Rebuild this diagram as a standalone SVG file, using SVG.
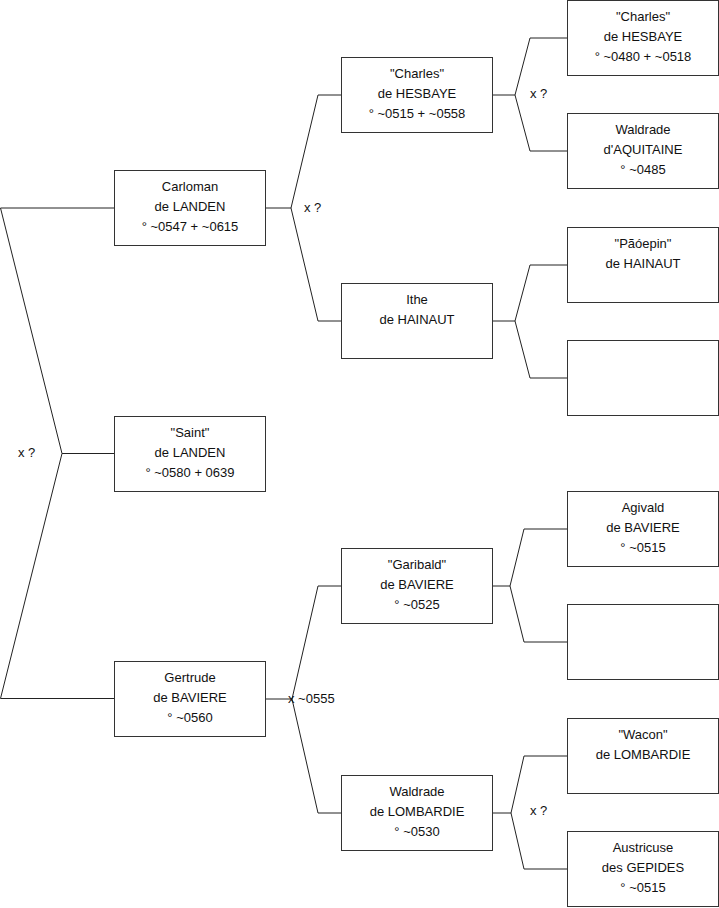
<svg xmlns="http://www.w3.org/2000/svg" width="719" height="908" viewBox="0 0 719 908">
<style>
.box{fill:#fff;stroke:#333;stroke-width:1}
.c{fill:none;stroke:#222;stroke-width:1}
text{font-family:"Liberation Sans",Arial,sans-serif;font-size:13px;fill:#111}
.t{text-anchor:middle}
</style>
<rect width="719" height="908" fill="#fff"/>
<g id="connectors">
<path class="c" d="M114,208 H0.5 L62,453.5 L0.5,698.5 H114 M62,453.5 H114"/>
<path class="c" d="M265,208 H291 L318,95 H341 M291,208 L318,321 H341"/>
<path class="c" d="M492,95 H515 L530,38 H567 M515,95 L530,151 H567"/>
<path class="c" d="M492,321 H515 L530,265 H567 M515,321 L530,378 H567"/>
<path class="c" d="M265,699 H292 L318,586 H341 M292,699 L318,813 H341"/>
<path class="c" d="M492,586 H510 L524,529 H567 M510,586 L524,642 H567"/>
<path class="c" d="M492,813 H511 L524,756 H567 M511,813 L524,869 H567"/>
<text x="18" y="457">x ?</text>
<text x="304" y="212">x ?</text>
<text x="530" y="98">x ?</text>
<text x="288" y="703">x ~0555</text>
<text x="530" y="815">x ?</text>
</g>
<g id="carloman"><rect class="box" x="114.5" y="170.5" width="151" height="75"/>
<text class="t" x="190" y="191">Carloman</text><text class="t" x="190" y="211">de LANDEN</text><text class="t" x="190" y="231">° ~0547 + ~0615</text></g>
<g id="saint"><rect class="box" x="114.5" y="416.5" width="151" height="75"/>
<text class="t" x="190" y="437">"Saint"</text><text class="t" x="190" y="457">de LANDEN</text><text class="t" x="190" y="477">° ~0580 + 0639</text></g>
<g id="gertrude"><rect class="box" x="114.5" y="661.5" width="151" height="75"/>
<text class="t" x="190" y="682">Gertrude</text><text class="t" x="190" y="702">de BAVIERE</text><text class="t" x="190" y="722">° ~0560</text></g>
<g id="charles1"><rect class="box" x="341.5" y="57.5" width="151" height="75"/>
<text class="t" x="417" y="78">"Charles"</text><text class="t" x="417" y="98">de HESBAYE</text><text class="t" x="417" y="118">° ~0515 + ~0558</text></g>
<g id="ithe"><rect class="box" x="341.5" y="283.5" width="151" height="75"/>
<text class="t" x="417" y="304">Ithe</text><text class="t" x="417" y="324">de HAINAUT</text></g>
<g id="garibald"><rect class="box" x="341.5" y="548.5" width="151" height="75"/>
<text class="t" x="417" y="569">"Garibald"</text><text class="t" x="417" y="589">de BAVIERE</text><text class="t" x="417" y="609">° ~0525</text></g>
<g id="waldrade-l"><rect class="box" x="341.5" y="775.5" width="151" height="75"/>
<text class="t" x="417" y="796">Waldrade</text><text class="t" x="417" y="816">de LOMBARDIE</text><text class="t" x="417" y="836">° ~0530</text></g>
<g id="charles2"><rect class="box" x="567.5" y="0.5" width="151" height="75"/>
<text class="t" x="643" y="21">"Charles"</text><text class="t" x="643" y="41">de HESBAYE</text><text class="t" x="643" y="61">° ~0480 + ~0518</text></g>
<g id="waldrade-a"><rect class="box" x="567.5" y="113.5" width="151" height="75"/>
<text class="t" x="643" y="134">Waldrade</text><text class="t" x="643" y="154">d'AQUITAINE</text><text class="t" x="643" y="174">° ~0485</text></g>
<g id="pepin"><rect class="box" x="567.5" y="227.5" width="151" height="75"/>
<text class="t" x="643" y="248">"Pãóepin"</text><text class="t" x="643" y="268">de HAINAUT</text></g>
<g id="empty1"><rect class="box" x="567.5" y="340.5" width="151" height="75"/></g>
<g id="agivald"><rect class="box" x="567.5" y="491.5" width="151" height="75"/>
<text class="t" x="643" y="512">Agivald</text><text class="t" x="643" y="532">de BAVIERE</text><text class="t" x="643" y="552">° ~0515</text></g>
<g id="empty2"><rect class="box" x="567.5" y="604.5" width="151" height="75"/></g>
<g id="wacon"><rect class="box" x="567.5" y="718.5" width="151" height="75"/>
<text class="t" x="643" y="739">"Wacon"</text><text class="t" x="643" y="759">de LOMBARDIE</text></g>
<g id="austricuse"><rect class="box" x="567.5" y="831.5" width="151" height="75"/>
<text class="t" x="643" y="852">Austricuse</text><text class="t" x="643" y="872">des GEPIDES</text><text class="t" x="643" y="892">° ~0515</text></g>
</svg>
